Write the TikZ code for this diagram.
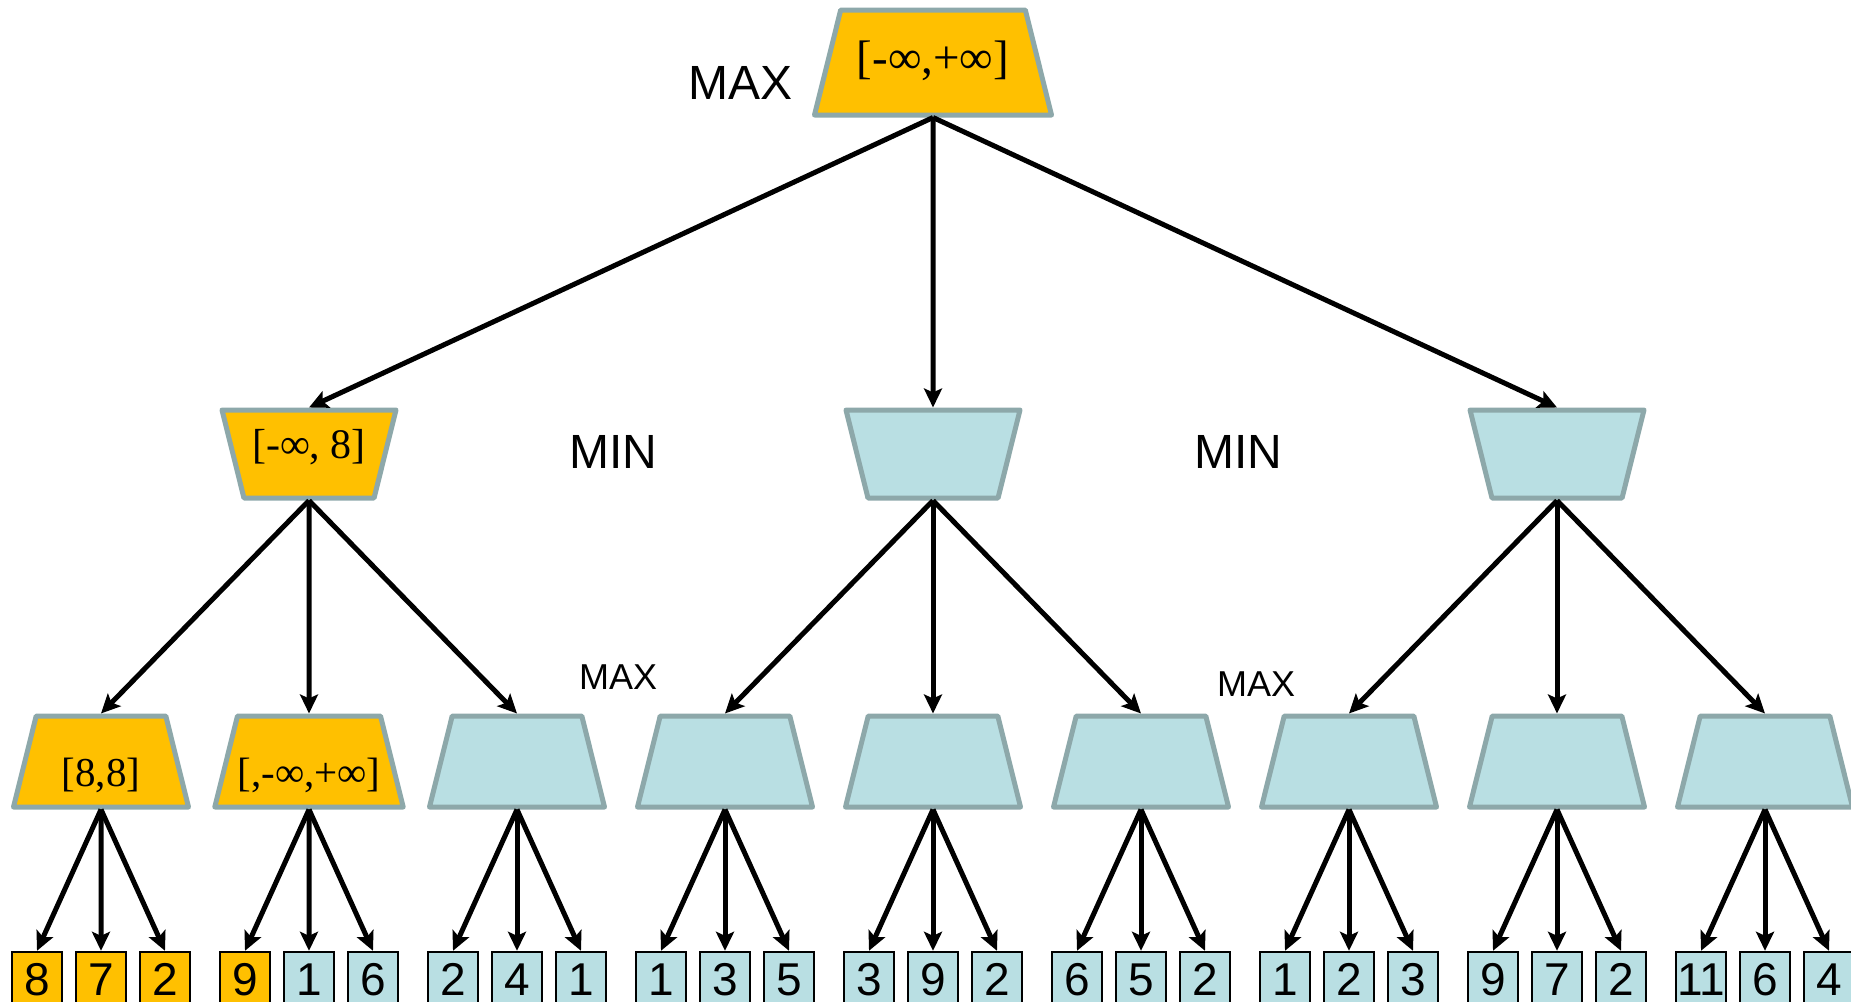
\documentclass[tikz,border=0pt]{standalone}
\usepackage{fontspec}
\setmainfont{Liberation Serif}
\newfontfamily\arialish{Liberation Sans}
\usetikzlibrary{shapes.geometric,arrows.meta}
\definecolor{gold}{HTML}{FFC000}
\definecolor{aqua}{HTML}{B9DFE3}
\definecolor{rim}{HTML}{8DA8AA}

\begin{document}
\begin{tikzpicture}[x=1pt,y=-1pt,
  trap/.style={trapezium, trapezium angle=76, trapezium stretches body=true,
    draw=rim, line width=5pt, line join=round, inner xsep=0pt, text depth=0pt},
  % the vertical inner sep sets the full height, so the slanted sides keep their angle
  maxnode/.style={trap, minimum width=237pt, text height=21pt, inner ysep=42pt,
    font=\fontsize{47pt}{56pt}\selectfont},
  minnode/.style={trap, shape border rotate=180, minimum width=174pt,
    text height=8pt, inner ysep=40pt, font=\fontsize{42pt}{50pt}\selectfont},
  subnode/.style={trap, minimum width=175pt, text height=49pt, inner ysep=21pt,
    font=\fontsize{41pt}{49pt}\selectfont},
  leaf/.style={rectangle, draw=black, line width=2.4pt, minimum width=50pt,
    minimum height=53pt, inner sep=0pt, text height=33pt, text depth=0pt,
    font=\arialish\fontsize{46pt}{55pt}\selectfont},
  arr/.style={line width=5pt, -{Stealth[length=19pt,width=18pt,inset=4pt]}},
  tag/.style={anchor=base west, inner sep=0pt, font=\arialish\fontsize{48pt}{57pt}\selectfont},
  smalltag/.style={tag, font=\arialish\fontsize{36pt}{43pt}\selectfont},
]
\useasboundingbox (0,0) rectangle (1851,1001);
\clip (0,0) rectangle (1851,1001);

% root (MAX)
\node[maxnode, fill=gold] (r) at (933,62.5) {[-∞,+∞]};

% MIN level
\node[minnode, fill=gold] (n1) at (309,454) {[-∞, 8]};
\node[minnode, fill=aqua] (n2) at (933,454) {};
\node[minnode, fill=aqua] (n3) at (1557,454) {};

% MAX level
\node[subnode, fill=gold] (m1) at (101,761.5) {[8,8]};
\node[subnode, fill=gold] (m2) at (309,761.5) {[,-∞,+∞]};
\node[subnode, fill=aqua] (m3) at (517,761.5) {};
\node[subnode, fill=aqua] (m4) at (725,761.5) {};
\node[subnode, fill=aqua] (m5) at (933,761.5) {};
\node[subnode, fill=aqua] (m6) at (1141,761.5) {};
\node[subnode, fill=aqua] (m7) at (1349,761.5) {};
\node[subnode, fill=aqua] (m8) at (1557,761.5) {};
\node[subnode, fill=aqua] (m9) at (1765,761.5) {};

% leaves
\foreach \v/\x/\c [count=\i] in {
  8/37/gold, 7/101/gold, 2/165/gold,
  9/245/gold, 1/309/aqua, 6/373/aqua,
  2/453/aqua, 4/517/aqua, 1/581/aqua,
  1/661/aqua, 3/725/aqua, 5/789/aqua,
  3/869/aqua, 9/933/aqua, 2/997/aqua,
  6/1077/aqua, 5/1141/aqua, 2/1205/aqua,
  1/1285/aqua, 2/1349/aqua, 3/1413/aqua,
  9/1493/aqua, 7/1557/aqua, 2/1621/aqua,
  11/1701/aqua, 6/1765/aqua, 4/1829/aqua}
  \node[leaf, fill=\c] (l\i) at (\x,978.5) {\v};

% level labels
\node[tag] (tmax) at (688,99) {MAX};
\node[tag] (tmin1) at (569,468) {MIN};
\node[tag] (tmin2) at (1194,468) {MIN};
\node[smalltag] (tmax1) at (579,689) {MAX};
\node[smalltag] (tmax2) at (1217,696) {MAX};

% connectors
\foreach \i in {1,2,3}
  \draw[arr] (r.south) -- (n\i.north);
\foreach \i in {1,2,3}
  \foreach \j in {1,2,3} {
    \pgfmathtruncatemacro\k{3*(\i-1)+\j}
    \draw[arr] (n\i.south) -- (m\k.north);
  }
\foreach \k in {1,...,9}
  \foreach \j in {0,1,2} {
    \pgfmathtruncatemacro\n{3*\k-2+\j}
    \draw[arr] (m\k.south) -- (l\n.north);
  }
\end{tikzpicture}
\end{document}
